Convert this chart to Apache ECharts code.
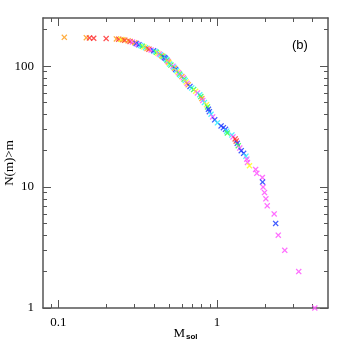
<!DOCTYPE html>
<html>
<head>
<meta charset="utf-8">
<script src="https://cdn.jsdelivr.net/npm/echarts@6/dist/echarts.min.js"></script>
<style>
  html, body { margin: 0; padding: 0; background: #fff; }
  #chart { width: 346px; height: 346px; }
</style>
</head>
<body>
<div id="chart"></div>
<script>
// masses (M_sol), cumulative counts N(>m) and colour index of each star
const mass = [
  0.109, 0.150, 0.157, 0.167, 0.200, 0.232, 0.240, 0.249, 0.255,
  0.262, 0.275, 0.283, 0.293, 0.303, 0.309, 0.315, 0.322, 0.330, 0.338,
  0.346, 0.354, 0.362, 0.372, 0.384, 0.398, 0.408, 0.415, 0.423, 0.432,
  0.440, 0.448, 0.456, 0.465, 0.472, 0.478, 0.484, 0.489, 0.494, 0.499,
  0.503, 0.512, 0.527, 0.533, 0.540, 0.548, 0.555, 0.563, 0.572, 0.580,
  0.588, 0.600, 0.612, 0.620, 0.630, 0.639, 0.648, 0.658, 0.675, 0.692,
  0.712, 0.733, 0.752, 0.778, 0.790, 0.802, 0.813, 0.832, 0.858, 0.870,
  0.882, 0.894, 0.916, 0.938, 0.966, 1.005, 1.06,
  1.096, 1.13, 1.15, 1.16, 1.24, 1.26, 1.30, 1.32, 1.34, 1.36,
  1.39, 1.42, 1.47, 1.52, 1.54, 1.555, 1.60, 1.75, 1.78, 1.93,
  1.935, 1.95, 1.99, 2.03, 2.07, 2.29, 2.34, 2.43, 2.67, 3.27, 4.13
];
const count = [
  173, 172, 171, 170, 169, 168, 167, 166, 165,
  164, 162, 160, 158, 156, 154, 152, 150, 148, 146,
  144, 142, 140, 138, 136, 134, 132, 130, 128, 126,
  124, 122, 120, 118, 116, 114, 112, 110, 108, 106,
  104, 102, 100, 98, 96, 94, 92, 90, 88, 86,
  84, 82, 80, 78, 76, 74, 72, 70, 68, 66,
  64, 62, 60, 58, 56, 54, 52, 50, 48, 46,
  44, 42, 40, 38, 36, 34, 32,
  31, 30, 29, 28, 27, 26, 25, 24, 23, 22,
  21, 20, 19, 18, 17, 16, 15, 14, 13, 12,
  11, 10, 9, 8, 7, 6, 5, 4, 3, 2, 1
];
const colorIdx = [
  0, 0, 1, 1, 1, 0, 1, 6, 0,
  1, 0, 1, 2, 0, 3, 2, 3, 4, 5,
  6, 4, 0, 1, 2, 3, 4, 5, 6, 2,
  4, 0, 5, 3, 3, 4, 5, 2, 0, 6,
  4, 5, 2, 4, 0, 3, 4, 6, 2, 5,
  4, 0, 2, 5, 4, 6, 2, 0, 3, 4,
  5, 6, 2, 4, 5, 0, 2, 4, 6, 5,
  3, 3, 4, 2, 3, 4, 3,
  3, 3, 4, 5, 4, 2, 1, 1, 3, 5,
  2, 3, 3, 4, 2, 2, 6, 2, 2, 2,
  3, 2, 2, 2, 2, 2, 3, 2, 2, 2, 2
];
const palette = ['#ffa020', '#ff3030', '#ff55ff', '#2040ff', '#30f0ff', '#30ff50', '#ffff20'];

const xMajor = [0.1, 1];
const xMinor = [0.09, 0.2, 0.3, 0.4, 0.5, 0.6, 0.7, 0.8, 0.9, 2, 3, 4];
const yMajor = [1, 10, 100];
const yMinor = [2, 3, 4, 5, 6, 7, 8, 9, 20, 30, 40, 50, 60, 70, 80, 90, 200];

const serif = 'Liberation Serif';
const lineCol = '#555';

function axisX(pos, ticks, len, withLine, withLabel) {
  return {
    type: 'log', logBase: 10, position: pos, min: 0.08, max: 5,
    axisLine: { show: withLine, onZero: false, lineStyle: { color: lineCol, width: 1.5 } },
    axisTick: { show: true, inside: true, length: len, customValues: ticks,
      lineStyle: { color: lineCol, width: 1 } },
    axisLabel: { show: withLabel, customValues: xMajor, margin: 8,
      fontFamily: serif, fontSize: 13, color: '#000',
      formatter: v => String(v) },
    splitLine: { show: false }
  };
}
function axisY(pos, ticks, len, withLine, withLabel) {
  return {
    type: 'log', logBase: 10, position: pos, min: 1, max: 250,
    axisLine: { show: withLine, onZero: false, lineStyle: { color: lineCol, width: 1.5 } },
    axisTick: { show: true, inside: true, length: len, customValues: ticks,
      lineStyle: { color: lineCol, width: 1 } },
    axisLabel: { show: withLabel, customValues: yMajor, margin: 9,
      fontFamily: serif, fontSize: 13, color: '#000',
      formatter: v => String(v) },
    splitLine: { show: false }
  };
}

const xAxes = [
  axisX('bottom', xMajor, 8, true, true),
  axisX('bottom', xMinor, 4, false, false),
  axisX('top', xMajor, 8, true, false),
  axisX('top', xMinor, 4, false, false)
];
const yAxes = [
  axisY('left', yMajor, 8, true, true),
  axisY('left', yMinor, 4, false, false),
  axisY('right', yMajor, 8, true, false),
  axisY('right', yMinor, 4, false, false)
];
xAxes[0].name = '{m|M}{s|sol}';
xAxes[0].nameLocation = 'middle';
xAxes[0].nameGap = 19;
xAxes[0].nameMoveOverlap = false;
xAxes[0].nameTextStyle = {
  rich: {
    m: { fontFamily: serif, fontSize: 13, color: '#000' },
    s: { fontFamily: 'Liberation Sans', fontSize: 8, fontWeight: 'bold', color: '#000',
      verticalAlign: 'bottom', padding: [6, 0, 0, 1] }
  }
};
yAxes[0].name = 'N(m)>m';
yAxes[0].nameLocation = 'middle';
yAxes[0].nameGap = 27;
yAxes[0].nameMoveOverlap = false;
yAxes[0].nameTextStyle = { fontFamily: serif, fontSize: 13, color: '#000' };

const cross = 'path://M0,1.5L1.5,0L5,3.5L8.5,0L10,1.5L6.5,5L10,8.5L8.5,10L5,6.5L1.5,10L0,8.5L3.5,5Z';

const c = echarts.init(document.getElementById('chart'), null, { renderer: 'canvas' });
c.setOption({
  animation: false,
  backgroundColor: '#fff',
  grid: { left: 43, right: 18, top: 18, bottom: 38, containLabel: false, outerBoundsMode: 'none' },
  xAxis: xAxes,
  yAxis: yAxes,
  graphic: [{
    type: 'text', left: 292, top: 39,
    style: { text: '(b)', fontFamily: 'Liberation Sans', fontSize: 13, fill: '#000' }
  }],
  series: [{
    type: 'scatter',
    xAxisIndex: 0, yAxisIndex: 0,
    symbol: cross,
    symbolSize: 6,
    clip: false,
    data: mass.map((m, i) => ({
      value: [m, count[i]],
      itemStyle: { color: palette[colorIdx[i]], opacity: 0.85 }
    }))
  }]
});
</script>
</body>
</html>
